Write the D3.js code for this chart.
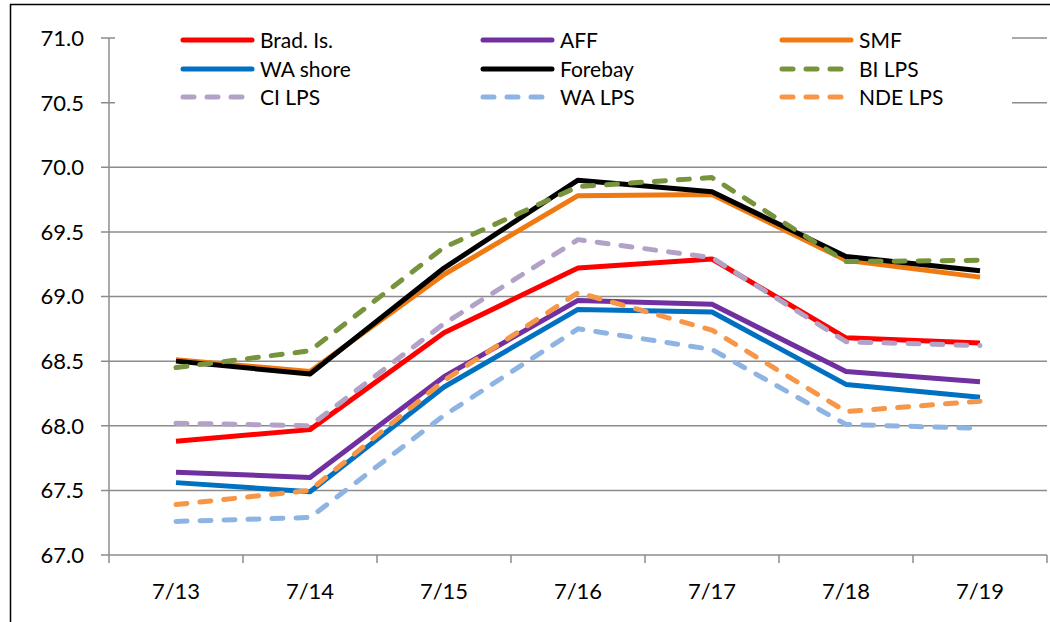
<!DOCTYPE html>
<html><head><meta charset="utf-8">
<script src="https://cdn.jsdelivr.net/npm/d3@7"></script>
<style>body{margin:0;background:#fff;}svg{display:block;}text{font-family:Lato,"Open Sans",sans-serif;fill:#000;}</style>
</head><body><svg id="c" width="1050" height="622"></svg>
<script>
const categories = ["7/13","7/14","7/15","7/16","7/17","7/18","7/19"];
const yTicks = [67.0,67.5,68.0,68.5,69.0,69.5,70.0,70.5,71.0];
const seriesNames = ["Brad. Is.","AFF","SMF","WA shore","Forebay","BI LPS","CI LPS","WA LPS","NDE LPS"];
const bradIs   = [67.88,67.97,68.72,69.22,69.29,68.68,68.64];
const aff      = [67.64,67.60,68.38,68.97,68.94,68.42,68.34];
const smf      = [68.51,68.42,69.17,69.78,69.79,69.28,69.15];
const waShore  = [67.56,67.49,68.30,68.90,68.88,68.32,68.22];
const forebay  = [68.50,68.40,69.22,69.90,69.81,69.31,69.20];
const biLps    = [68.45,68.58,69.38,69.85,69.92,69.27,69.28];
const ciLps    = [68.02,68.00,68.79,69.44,69.30,68.65,68.62];
const waLps    = [67.26,67.29,68.08,68.75,68.59,68.01,67.98];
const ndeLps   = [67.39,67.50,68.35,69.03,68.74,68.11,68.19];

const seriesValues = [bradIs,aff,smf,waShore,forebay,biLps,ciLps,waLps,ndeLps];
const colors = ["#FF0000","#7030A0","#F07A12","#0070C0","#000000","#77933C","#B3A2C7","#8EB4E3","#F79646"];
const dashed = [false,false,false,false,false,true,true,true,true];

const svg = d3.select("#c");
const L=109,R=1047,T=38,B=555;
const x = d3.scaleBand().domain(categories).range([L,R]);
const y = d3.scaleLinear().domain([67,71]).range([B,T]);

// outer border
svg.append("rect").attr("x",10.5).attr("y",4.5).attr("width",1060).attr("height",640).attr("fill","none").attr("stroke","#000").attr("stroke-width",1.5);

// gridlines
svg.append("g").selectAll("line").data(yTicks).join("line")
  .attr("x1",L-8).attr("x2",R).attr("y1",d=>y(d)).attr("y2",d=>y(d))
  .attr("stroke","#8c8c8c").attr("stroke-width",1.5);

// y axis line
svg.append("line").attr("x1",L).attr("x2",L).attr("y1",T).attr("y2",B).attr("stroke","#8c8c8c").attr("stroke-width",1.5);
// x ticks
const xt = categories.map((c)=>x(c)).concat([R]);
svg.append("g").selectAll("line").data(xt).join("line")
  .attr("x1",d=>d).attr("x2",d=>d).attr("y1",B).attr("y2",B+8)
  .attr("stroke","#8c8c8c").attr("stroke-width",1.5);

// y labels
svg.append("g").selectAll("text").data(yTicks).join("text")
  .attr("x",84).attr("y",d=>y(d)).attr("dy","0.36em").attr("text-anchor","end")
  .style("font-size","22px").text(d=>d.toFixed(1));
// x labels
svg.append("g").selectAll("text").data(categories).join("text")
  .attr("x",d=>x(d)+x.bandwidth()/2).attr("y",599).attr("text-anchor","middle")
  .style("font-size","22px").text(d=>d);

// lines
const line = d3.line().x((d,i)=>x(categories[i])+x.bandwidth()/2).y(d=>y(d));
seriesValues.forEach((vals,k)=>{
  svg.append("path").datum(vals).attr("d",line).attr("fill","none")
    .attr("stroke",colors[k]).attr("stroke-width",5)
    .attr("stroke-linejoin","round")
    .attr("stroke-linecap",dashed[k]?"round":"butt")
    .attr("stroke-dasharray",dashed[k]?"11 13":null);
});

// legend
const lg = svg.append("g");
lg.append("rect").attr("x",115).attr("y",25).attr("width",897).attr("height",88).attr("fill","#fff");
const colX=[183,483,782], rowY=[40,69,97];
seriesNames.forEach((n,k)=>{
  const cx = colX[k%3], cy=rowY[Math.floor(k/3)];
  lg.append("line").attr("x1",cx).attr("x2",cx+69).attr("y1",cy).attr("y2",cy)
    .attr("stroke",colors[k]).attr("stroke-width",5).attr("stroke-linecap","round")
    .attr("stroke-dasharray",dashed[k]?"11 13":null);
  lg.append("text").attr("x",cx+77).attr("y",cy).attr("dy","0.36em").style("font-size","21px").text(n);
});
</script></body></html>
